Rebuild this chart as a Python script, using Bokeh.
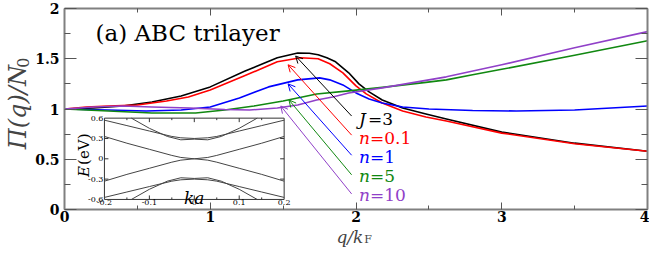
import math
from bokeh.plotting import figure
from bokeh.models import (Range1d, LinearAxis, Label, Arrow, OpenHead, FixedTicker,
                          CustomLabelingPolicy)
from bokeh.core.properties import value
from bokeh.embed import file_html
from bokeh.resources import INLINE

# ---------------- data ----------------
black_x = [0, 0.2, 0.4, 0.6, 0.8, 1.0, 1.235, 1.46, 1.6, 1.68, 1.74, 1.8, 1.86, 1.95, 2.02, 2.09, 2.18, 2.32, 2.48, 2.62, 3.0, 3.5, 4.0]
black_y = [1.0, 1.01, 1.03, 1.07, 1.13, 1.22, 1.375, 1.51, 1.557, 1.555, 1.54, 1.51, 1.47, 1.36, 1.25, 1.17, 1.09, 1.01, 0.95, 0.90, 0.77, 0.66, 0.58]

red_x = [0, 0.15, 0.3, 0.5, 0.7, 0.85, 1.0, 1.235, 1.46, 1.62, 1.74, 1.82, 1.91, 2.0, 2.07, 2.18, 2.32, 2.48, 2.62, 3.0, 3.5, 4.0]
red_y = [1.0, 1.02, 1.03, 1.04, 1.08, 1.12, 1.19, 1.33, 1.47, 1.51, 1.50, 1.45, 1.36, 1.23, 1.15, 1.06, 0.98, 0.92, 0.88, 0.76, 0.655, 0.58]

blue_x = [0, 0.3, 0.56, 0.8, 1.0, 1.2, 1.4, 1.6, 1.75, 1.82, 1.91, 2.0, 2.09, 2.18, 2.32, 2.5, 2.8, 3.1, 3.5, 4.0]
blue_y = [1.0, 0.99, 0.98, 0.99, 1.02, 1.11, 1.22, 1.29, 1.31, 1.29, 1.24, 1.16, 1.10, 1.06, 1.02, 1.0, 0.985, 0.98, 0.99, 1.03]

green_x = [0, 0.3, 0.6, 0.9, 1.1, 1.3, 1.5, 1.73, 1.95, 2.18, 2.48, 2.62, 2.8, 3.0, 3.5, 4.0]
green_y = [1.0, 0.98, 0.96, 0.96, 0.99, 1.03, 1.08, 1.15, 1.18, 1.215, 1.265, 1.29, 1.34, 1.395, 1.535, 1.68]

purple_x = [0, 0.2, 0.4, 0.6, 0.86, 1.1, 1.27, 1.46, 1.6, 1.73, 1.84, 1.95, 2.18, 2.48, 2.62, 3.0, 3.5, 4.0]
purple_y = [1.0, 1.02, 1.03, 1.02, 1.01, 0.995, 0.99, 1.01, 1.04, 1.09, 1.12, 1.16, 1.21, 1.285, 1.32, 1.44, 1.61, 1.77]

series_colors = ["black", "#ff0000", "#0000ff", "#118811", "#9040c8"]
label_prefix = ["J", "n", "n", "n", "n"]
label_suffix = ["=3", "=0.1", "=1", "=5", "=10"]
label_x = 2.02
label_y = [0.90, 0.71, 0.52, 0.33, 0.14]
arrow_start_x = [1.97, 1.97, 1.97, 1.97, 1.97]
arrow_start_y = [0.93, 0.74, 0.54, 0.345, 0.155]
arrow_end_x = [1.586, 1.534, 1.534, 1.54, 1.484]
arrow_end_y = [1.527, 1.44, 1.25, 1.09, 1.03]

x_ticks = [0, 1, 2, 3, 4]
x_tick_labels = ["0", "1", "2", "3", "4"]
x_minor = [0.5, 1.5, 2.5, 3.5]
y_ticks = [0, 0.5, 1, 1.5, 2]
y_tick_labels = ["0", "0.5", "1", "1.5", "2"]
y_minor = [0.25, 0.75, 1.25, 1.75]
x_lim = (0, 4)
y_lim = (0, 2)

# inset band structure (ka, E in eV)
band_k = [-0.2, -0.15, -0.1, -0.05, -0.03, 0, 0.03, 0.05, 0.1, 0.15, 0.2]
band_low = [0.33, 0.23, 0.14, 0.05, 0.02, 0.0, 0.02, 0.05, 0.14, 0.23, 0.33]
band_B = [0.57, 0.49, 0.41, 0.33, 0.31, 0.30, 0.31, 0.33, 0.41, 0.49, 0.57]
bandA_k = [-0.14, -0.1, -0.06, -0.03, 0, 0.03, 0.06, 0.1, 0.14]
band_A = [0.6, 0.45, 0.33, 0.28, 0.29, 0.28, 0.33, 0.45, 0.6]
inset_xticks = [-0.2, -0.1, 0, 0.1, 0.2]
inset_xtick_labels = ["-0.2", "-0.1", "0", "0.1", "0.2"]
inset_xminor = [-0.15, -0.05, 0.05, 0.15]
inset_yticks = [-0.6, -0.3, 0, 0.3, 0.6]
inset_ytick_labels = ["-0.6", "-0.3", "0", "0.3", "0.6"]

# inset placement in main-data coordinates and its own data window
inset_box = (0.274, 1.507, 0.10, 0.909)
inset_win = (-0.2, 0.2, -0.6, 0.6)

# ---------------- layout (pixels inside the canvas) ----------------
W, H = 649, 247
FL, FR, FT, FB = 64, 647, 8, 209   # where x_lim / y_lim land on the canvas
px_per_x = (FR - FL) / (x_lim[1] - x_lim[0])
px_per_y = (FB - FT) / (y_lim[1] - y_lim[0])
xr = Range1d(x_lim[0] - FL / px_per_x, x_lim[1] + (W - FR) / px_per_x)
yr = Range1d(y_lim[0] - (H - FB) / px_per_y, y_lim[1] + FT / px_per_y)

SERIF = "DejaVu Serif"
p = figure(width=W, height=H, x_range=xr, y_range=yr,
           output_backend="svg", toolbar_location=None,
           min_border_left=0, min_border_right=0, min_border_top=0, min_border_bottom=0)
p.background_fill_color = "white"
p.border_fill_color = "white"
p.outline_line_color = None
p.xgrid.visible = False
p.ygrid.visible = False

def no_labels():
    return CustomLabelingPolicy(code="for (const i of indices) { indices.unset(i) } return indices")

p.add_layout(LinearAxis(major_label_policy=no_labels(), major_label_standoff=0), "right")
p.add_layout(LinearAxis(major_label_policy=no_labels(), major_label_standoff=0), "above")

p.below[0].fixed_location = y_lim[0]
p.above[0].fixed_location = y_lim[1]
p.left[0].fixed_location = x_lim[0]
p.right[0].fixed_location = x_lim[1]

for ax in p.xaxis:
    ax.ticker = FixedTicker(ticks=x_ticks, minor_ticks=x_minor)
    ax.bounds = x_lim
    ax.major_tick_in = 7
    ax.minor_tick_in = 4
for ax in p.yaxis:
    ax.ticker = FixedTicker(ticks=y_ticks, minor_ticks=y_minor)
    ax.bounds = y_lim
    ax.major_tick_in = 12
    ax.minor_tick_in = 6
for ax in p.axis:
    ax.major_tick_out = 0
    ax.minor_tick_out = 0
    ax.axis_line_color = "#808080"
    ax.axis_line_width = 2
    ax.major_tick_line_color = "#555555"
    ax.minor_tick_line_color = "#555555"
    ax.major_label_text_font = SERIF
    ax.major_label_text_font_size = "14px"
    ax.major_label_text_font_style = "bold"
    ax.major_label_text_color = "black"
p.below[0].major_label_standoff = 1
p.left[0].major_label_standoff = 5
p.below[0].major_label_overrides = {t: s for t, s in zip(x_ticks, x_tick_labels)}
p.left[0].major_label_overrides = {t: s for t, s in zip(y_ticks, y_tick_labels)}

# main curves
for xs, ys, c in zip([black_x, red_x, blue_x, green_x, purple_x],
                     [black_y, red_y, blue_y, green_y, purple_y], series_colors):
    p.line(xs, ys, line_color=c, line_width=1.6, line_join="round")

# inset ranges mapped so that inset_win fills inset_box
bx0, bx1, by0, by1 = inset_box
wx0, wx1, wy0, wy1 = inset_win
sx = (wx1 - wx0) / (bx1 - bx0)
sy = (wy1 - wy0) / (by1 - by0)
p.extra_x_ranges = {"ix": Range1d(wx0 - (bx0 - xr.start) * sx, wx1 + (xr.end - bx1) * sx)}
p.extra_y_ranges = {"iy": Range1d(wy0 - (by0 - yr.start) * sy, wy1 + (yr.end - by1) * sy)}
R = dict(x_range_name="ix", y_range_name="iy")

p.quad(left=[wx0], right=[wx1], bottom=[wy0], top=[wy1], fill_color="white",
       line_color="#333333", line_width=1, **R)
for band in (band_low, band_B):
    p.line(band_k, band, line_color="#444444", line_width=1, **R)
    p.line(band_k, [-v for v in band], line_color="#444444", line_width=1, **R)
p.line(bandA_k, band_A, line_color="#444444", line_width=1, **R)
p.line(bandA_k, [-v for v in band_A], line_color="#444444", line_width=1, **R)

# inset ticks
tk_y = 4 / px_per_y * sy   # ~4 px in E units
tk_x = 4 / px_per_x * sx   # ~4 px in ka units
for t in inset_xticks[1:-1]:
    p.segment(x0=[t, t], y0=[wy0, wy1], x1=[t, t], y1=[wy0 + tk_y, wy1 - tk_y], line_color="#333333", line_width=1, **R)
for t in inset_xminor:
    p.segment(x0=[t, t], y0=[wy0, wy1], x1=[t, t], y1=[wy0 + tk_y / 2, wy1 - tk_y / 2], line_color="#333333", line_width=1, **R)
for t in inset_yticks[1:-1]:
    p.segment(x0=[wx0, wx1], y0=[t, t], x1=[wx0 + tk_x, wx1 - tk_x], y1=[t, t], line_color="#333333", line_width=1, **R)

p.text(x=inset_xticks, y=[wy0] * len(inset_xticks), text=inset_xtick_labels,
       text_font=value(SERIF), text_font_size="8px", text_align="center", text_baseline="top",
       y_offset=1, text_color="black", **R)
p.text(x=[wx0] * len(inset_yticks), y=inset_yticks, text=inset_ytick_labels,
       text_font=value(SERIF), text_font_size="8px", text_align="right", text_baseline="middle",
       x_offset=-1, text_color="black", **R)
p.text(x=[0.0], y=[-0.585], text=["ka"], text_font=value(SERIF), text_font_style="italic",
       text_font_size="17px", text_align="center", text_baseline="alphabetic", **R)
p.text(x=[-0.245], y=[-0.27], text=["E"], text_font=value(SERIF), text_font_style="italic",
       text_font_size="15px", text_align="left", text_baseline="middle", angle=math.pi / 2, **R)
p.text(x=[-0.245], y=[-0.09], text=["(eV)"], text_font=value(SERIF),
       text_font_size="15px", text_align="left", text_baseline="middle", angle=math.pi / 2, **R)

# arrows and curve labels
for i, c in enumerate(series_colors):
    p.add_layout(Arrow(end=OpenHead(size=7, line_color=c, line_width=1),
                       x_start=arrow_start_x[i], y_start=arrow_start_y[i],
                       x_end=arrow_end_x[i], y_end=arrow_end_y[i],
                       line_color=c, line_width=1))
    off = 9 if label_prefix[i] == "J" else 11
    p.add_layout(Label(x=label_x, y=label_y[i], text=label_prefix[i], text_color=c,
                       text_font=SERIF, text_font_style="italic", text_font_size="17px",
                       text_baseline="middle"))
    p.add_layout(Label(x=label_x, y=label_y[i], x_offset=off, text=label_suffix[i], text_color=c,
                       text_font=SERIF, text_font_size="17px", text_baseline="middle"))

# panel title
p.add_layout(Label(x=0.213, y=1.76, text="(a) ABC trilayer", text_font=SERIF,
                   text_font_size="23px", text_baseline="middle", text_color="black"))

# axis titles
title_base_y = -27 / px_per_y
p.add_layout(Label(x=2.05, y=title_base_y, text="q/k", text_font=SERIF, text_font_style="italic",
                   text_font_size="17px", text_align="right", text_baseline="alphabetic"))
p.add_layout(Label(x=2.05, y=title_base_y - 3 / px_per_y, x_offset=1, text="F", text_font=SERIF,
                   text_font_size="11px", text_align="left", text_baseline="alphabetic"))
p.add_layout(Label(x=-0.32, y=0.60, text="Π(q)/N", text_font=SERIF, text_font_style="italic",
                   text_font_size="24px", text_align="left", text_baseline="middle",
                   angle=math.pi / 2))
p.add_layout(Label(x=-0.32, y=1.41, x_offset=5, text="0", text_font=SERIF,
                   text_font_size="16px", text_align="left", text_baseline="middle",
                   angle=math.pi / 2))

open("out.html", "w").write(file_html(p, INLINE))
